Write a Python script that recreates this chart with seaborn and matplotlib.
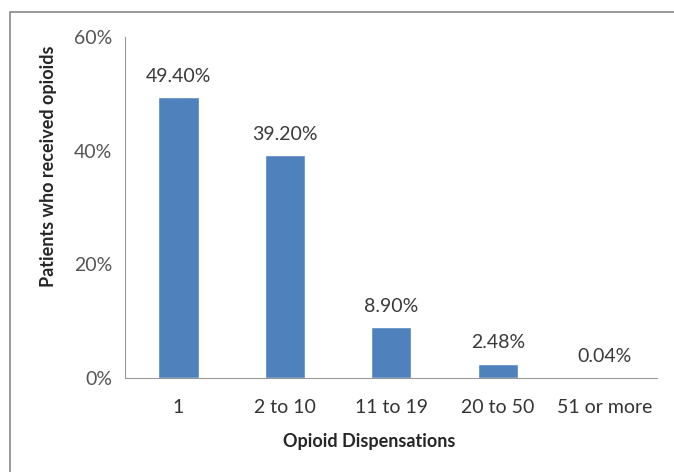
import numpy as np
import pandas as pd
import seaborn as sns
import matplotlib.pyplot as plt
from matplotlib.patches import Rectangle
from matplotlib.ticker import FuncFormatter

categories = ['1', '2 to 10', '11 to 19', '20 to 50', '51 or more']
values = [49.40, 39.20, 8.90, 2.48, 0.04]
labels = ['49.40%', '39.20%', '8.90%', '2.48%', '0.04%']

df = pd.DataFrame({'Opioid Dispensations': categories, 'Patients': values})

sns.set_style('white')
plt.rcParams['font.family'] = ['Lato', 'DejaVu Sans']

fig = plt.figure(figsize=(6.74, 4.72), dpi=100)
ax = fig.add_axes([0.1855, 0.199, 0.79, 0.7226])

sns.barplot(data=df, x='Opioid Dispensations', y='Patients', color='#4F81BD',
            saturation=1, width=0.38, ax=ax)

for i, t in enumerate(labels):
    ax.text(i, values[i] + 2.2, t, ha='center', va='bottom', fontsize=14, color='#3a3a3a')

ax.set_ylim(0, 60)
ax.set_yticks([0, 20, 40, 60])
ax.yaxis.set_major_formatter(FuncFormatter(lambda v, p: f'{int(v)}%'))
ax.set_xlim(-0.5, 4.5)
ax.tick_params(axis='y', length=4, color='#999999', labelsize=14, labelcolor='#555555', pad=5)
ax.tick_params(axis='x', length=0, labelsize=14, labelcolor='#333333', pad=15)

for s in ['top', 'right']:
    ax.spines[s].set_visible(False)
ax.spines['left'].set_color('#999999')
ax.spines['bottom'].set_color('#999999')

ax.set_xlabel('Opioid Dispensations', fontsize=13, fontweight='bold')
ax.xaxis.set_label_coords(0.459, -0.16)
ax.set_ylabel('Patients who received opioids', fontsize=13, fontweight='bold')
ax.yaxis.set_label_coords(-0.127, 0.62)

fig.patches.append(Rectangle((10 / 674, -0.1), 1.0, (472 - 12) / 472 + 0.1,
                             transform=fig.transFigure, fill=False,
                             edgecolor='#888888', linewidth=1.2))

fig.savefig('out.png', dpi=100)
